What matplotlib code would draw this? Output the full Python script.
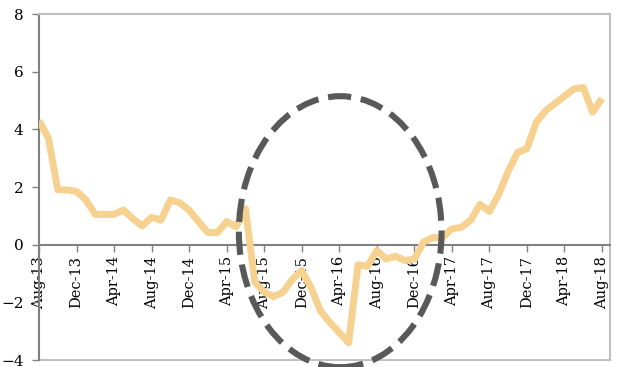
import numpy as np
import matplotlib
matplotlib.use('Agg')
import matplotlib.pyplot as plt
from matplotlib.patches import Ellipse

# monthly readings, Aug-13 .. Aug-18 (%)
values = [4.3, 3.7, 1.9, 1.9, 1.85, 1.55, 1.05, 1.05, 1.05, 1.2,
          0.9, 0.65, 0.95, 0.85, 1.55, 1.45, 1.2, 0.8, 0.42, 0.42,
          0.8, 0.62, 1.25, -1.3, -1.65, -1.8, -1.65, -1.2, -0.9, -1.5,
          -2.3, -2.7, -3.05, -3.4, -0.7, -0.75, -0.2, -0.5, -0.4, -0.55,
          -0.5, 0.1, 0.25, 0.25, 0.55, 0.6, 0.85, 1.4, 1.15, 1.75,
          2.55, 3.2, 3.33, 4.25, 4.65, 4.9, 5.15, 5.4, 5.45, 4.6,
          5.07]
tick_labels = ['Aug-13', 'Dec-13', 'Apr-14', 'Aug-14', 'Dec-14', 'Apr-15',
               'Aug-15', 'Dec-15', 'Apr-16', 'Aug-16', 'Dec-16', 'Apr-17',
               'Aug-17', 'Dec-17', 'Apr-18', 'Aug-18']
y_ticks = [-4, -2, 0, 2, 4, 6, 8]

x = np.arange(len(values))

plt.rcParams['font.family'] = ['DejaVu Serif']

fig = plt.figure(figsize=(6.28, 3.67), dpi=100)
ax = fig.add_axes([39 / 628, 1 - 360 / 367, (610 - 39) / 628, (360 - 14) / 367])

# x axis sits on the zero line; spine moved before ticks are styled
ax.spines['bottom'].set_position(('data', 0))

# line goes over the month labels
ax.plot(x, values, color='#F6D190', lw=5, solid_joinstyle='round',
        solid_capstyle='butt', zorder=3)

# dashed ring around the 2015-16 dip
ring = Ellipse((32.1, 0.45), width=21.6, height=9.4, fill=False,
               edgecolor='#595959', lw=4.4, linestyle=(0, (3.8, 1.6)),
               clip_on=False, zorder=4)
ax.add_patch(ring)

ax.set_xlim(0, 60.85)
ax.set_ylim(-4, 8)
ax.set_yticks(y_ticks)
ax.set_xticks(x[::4])
ax.set_xticklabels(tick_labels)
ax.tick_params(axis='y', labelsize=11, length=5, width=1, color='#808080', pad=6)
ax.tick_params(axis='x', labelsize=10.5, labelrotation=90, length=5, width=1,
               color='#808080', pad=3)

ax.spines['bottom'].set_color('#808080')
ax.spines['bottom'].set_linewidth(1.5)
ax.spines['left'].set_color('#808080')
ax.spines['left'].set_linewidth(1.5)
for side in ['top', 'right']:
    ax.spines[side].set_color('#C0C0C0')
    ax.spines[side].set_linewidth(1.5)
ax.axhline(-4, color='#C0C0C0', lw=1.5, clip_on=False, zorder=1)

fig.savefig('out.png', dpi=100)
